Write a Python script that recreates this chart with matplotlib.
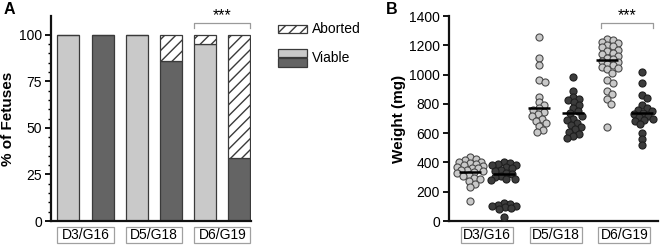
import numpy as np
import matplotlib
matplotlib.use("Agg")
import matplotlib.pyplot as plt
from matplotlib.patches import Rectangle
from matplotlib.transforms import blended_transform_factory

plt.rcParams['font.family'] = ['Liberation Sans', 'DejaVu Sans']
plt.rcParams['hatch.linewidth'] = 1.0

# ---------------- data ----------------
groups = ["D3/G16", "D5/G18", "D6/G19"]
viable_pct = [100, 100, 100, 86, 95, 34]
aborted_pct = [0, 0, 0, 14, 5, 66]

w_d3_light = [435, 425, 415, 405, 400, 395, 390, 380, 375, 370, 365, 360, 350,
              345, 340, 335, 325, 315, 305, 295, 285, 270, 255, 230, 140]
w_d3_dark = [400, 395, 390, 385, 380, 370, 360, 350, 340, 330, 320, 310, 300,
             290, 285, 280, 120, 115, 110, 105, 100, 95, 90, 85, 30]
w_d5_light = [1260, 1110, 1065, 960, 950, 850, 810, 790, 770, 760, 745, 730,
              715, 700, 685, 670, 650, 620, 610]
w_d5_dark = [985, 890, 850, 835, 825, 810, 790, 770, 750, 735, 720, 700, 690,
             670, 655, 640, 625, 610, 595, 580, 570]
w_d6_light = [1245, 1235, 1225, 1215, 1205, 1195, 1185, 1170, 1160, 1150, 1140,
              1125, 1115, 1105, 1095, 1085, 1075, 1065, 1055, 1045, 1035, 1010,
              960, 945, 890, 865, 830, 800, 640]
w_d6_dark = [1015, 940, 860, 840, 790, 770, 760, 750, 740, 730, 720, 710, 700,
             690, 680, 660, 600, 560, 520]
weight_series = [w_d3_light, w_d3_dark, w_d5_light, w_d5_dark, w_d6_light, w_d6_dark]
weight_means = [335, 318, 775, 735, 1100, 740]

LIGHT = "#c9c9c9"
DARK = "#646464"
EDGE = "#3a3a3a"
BRACKET = "#9a9a9a"

fig = plt.figure(figsize=(6.62, 2.47), dpi=100)
W, H = 662, 247

def axrect(x0, x1, ytop, ybot):
    return [x0 / W, 1 - ybot / H, (x1 - x0) / W, (ybot - ytop) / H]

# ---------------- panel A ----------------
axA = fig.add_axes(axrect(51, 251, 16, 221))
pos = np.arange(6)
colors = [LIGHT, DARK] * 3
bw = 0.64
axA.bar(pos, viable_pct, width=bw, color=colors, edgecolor=EDGE, linewidth=0.9, zorder=2)
axA.bar(pos, aborted_pct, bottom=viable_pct, width=bw, color="white", edgecolor=EDGE,
        linewidth=0.9, hatch="///", zorder=2)
axA.set_xlim(-0.51, 5.34)
axA.set_ylim(0, 110)
axA.set_yticks([0, 25, 50, 75, 100])
axA.set_yticks(np.arange(0, 101, 5), minor=True)
axA.set_xticks([])
axA.set_ylabel("% of Fetuses", fontsize=11, fontweight="bold", labelpad=3)

# ---------------- panel B ----------------
axB = fig.add_axes(axrect(449, 658, 16, 221))
axB.set_xlim(-0.61, 5.48)
axB.set_ylim(0, 1400)
axB.set_yticks(np.arange(0, 1401, 200))
axB.set_xticks([])
axB.set_ylabel("Weight (mg)", fontsize=11, fontweight="bold", labelpad=2)

# deterministic swarm placement in pixel space
px_per_x = 34.3
px_per_y = 205 / 1400.0
diam = 7.0
min_d = diam * 0.8

def swarm(vals):
    vals = np.asarray(vals, dtype=float)
    order = np.argsort(-vals)
    placed = []
    offs = np.zeros(len(vals))
    cands = [0.0]
    for k in range(1, 40):
        cands += [k * 1.0, -k * 1.0]
    for i in order:
        y = vals[i] * px_per_y
        best = None
        bestov = 1e9
        for c in cands:
            if abs(c) > 13:
                break
            ov = 0
            for (px, py) in placed:
                d2 = (px - c) ** 2 + (py - y) ** 2
                if d2 < min_d ** 2:
                    ov += min_d - np.sqrt(d2)
            if ov == 0:
                best = c
                break
            if ov < bestov:
                bestov = ov
                best = c
        placed.append((best, y))
        offs[i] = best / px_per_x
    return offs

for i, vals in enumerate(weight_series):
    offs = swarm(vals)
    fc = LIGHT if i % 2 == 0 else "#3c3c3c"
    ec = "#4a4a4a" if i % 2 == 0 else "#1e1e1e"
    axB.scatter(i + offs, vals, s=26, facecolor=fc, edgecolor=ec, linewidth=0.8, zorder=3)
    axB.plot([i - 0.32, i + 0.32], [weight_means[i]] * 2, color="black", lw=1.8,
             zorder=4, solid_capstyle="butt")

for ax in (axA, axB):
    for s in ("top", "right"):
        ax.spines[s].set_visible(False)
    for s in ("left", "bottom"):
        ax.spines[s].set_linewidth(1.6)
        ax.spines[s].set_color("#111111")
    ax.tick_params(axis="y", which="major", length=4.5, width=1.3, labelsize=10, pad=2)
    ax.tick_params(axis="y", which="minor", length=2.5, width=1.0)
    # group label boxes
    tr = blended_transform_factory(ax.transData, ax.transAxes)
    for g, name in enumerate(groups):
        c = 2 * g + 0.5
        if ax is axA:
            half = 0.5 + bw / 2
        else:
            half = 0.76
        ax.add_patch(Rectangle((c - half, -0.107), 2 * half, 0.078, transform=tr,
                               facecolor="white", edgecolor="#a0a0a0", lw=0.9,
                               clip_on=False))
        ax.text(c, -0.068, name, transform=tr, ha="center", va="center", fontsize=10)

# significance brackets
def bracket(ax, x0, x1, y, h):
    ax.plot([x0, x0, x1, x1], [y - h, y, y, y - h], color=BRACKET, lw=0.9, clip_on=False)
    ax.text((x0 + x1) / 2, y, "***", ha="center", va="bottom", fontsize=11.5, clip_on=False)

bracket(axA, 4 - bw / 2, 5 + bw / 2, 106, 2.5)
bracket(axB, 3.82, 5.33, 1352, 32)

# legend
def fbox(x0, x1, y0, y1, **kw):
    fig.add_artist(Rectangle((x0 / W, 1 - y1 / H), (x1 - x0) / W, (y1 - y0) / H,
                             transform=fig.transFigure, **kw))

fbox(278, 307, 25, 33, facecolor="white", edgecolor=EDGE, lw=0.9, hatch="///")
fbox(278, 307, 49, 57, facecolor=LIGHT, edgecolor=EDGE, lw=0.9)
fbox(278, 307, 58, 67, facecolor=DARK, edgecolor=EDGE, lw=0.9)
fig.text(312 / W, 1 - 29 / H, "Aborted", ha="left", va="center", fontsize=10)
fig.text(312 / W, 1 - 58 / H, "Viable", ha="left", va="center", fontsize=10)

# panel labels
fig.text(4 / W, 1 - 9 / H, "A", ha="left", va="center", fontsize=11.5, fontweight="bold")
fig.text(386 / W, 1 - 10 / H, "B", ha="left", va="center", fontsize=11.5, fontweight="bold")

fig.savefig("out.png", dpi=100)
